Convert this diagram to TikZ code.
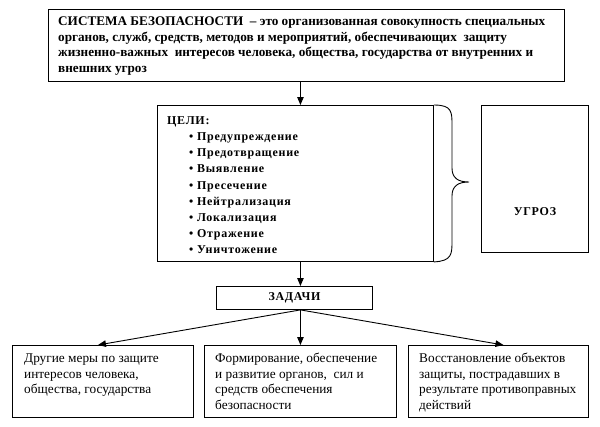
\documentclass[tikz,border=0pt]{standalone}
\usepackage{fontspec}
\setmainfont{Liberation Serif}
\newfontfamily\spaced[LetterSpace=6]{Liberation Serif}
\usetikzlibrary{arrows.meta,calc}
\begin{document}
\begin{tikzpicture}[x=1pt,y=-1pt,
  box/.style={draw, line width=0.9pt, inner sep=0pt, anchor=north west},
  txt/.style={anchor=north west, inner sep=0pt, align=left},
  arr/.style={line width=0.9pt, -{Triangle[length=8pt,width=6.5pt]}}]
\useasboundingbox (0,0) rectangle (600,426);
% boxes
\node[box, minimum width=516pt, minimum height=72pt] (sys) at (48,9) {};
\node[box, minimum width=276pt, minimum height=156pt] (goals) at (157,105) {};
\node[box, minimum width=107pt, minimum height=147pt] (thr) at (481,105) {};
\node[box, minimum width=156pt, minimum height=23pt, font=\spaced\bfseries\fontsize{12}{14}\selectfont] (zad) at (216,286) {ЗАДАЧИ};
\node[box, minimum width=181pt, minimum height=72pt] (left) at (12,345) {};
\node[box, minimum width=192pt, minimum height=72pt] (mid) at (204,345) {};
\node[box, minimum width=180pt, minimum height=72pt] (right) at (408,345) {};
% texts
\node[txt, font=\bfseries\fontsize{13.2}{15.5}\selectfont] (systxt) at (58,14.5) {\strut СИСТЕМА БЕЗОПАСНОСТИ \ – это организованная совокупность специальных\\органов, служб, средств, методов и мероприятий, обеспечивающих \ защиту\\жизненно-важных \ интересов человека, общества, государства от внутренних и\\внешних угроз};
\node[txt, font=\spaced\bfseries\fontsize{12}{16.2}\selectfont] (goalstxt) at (167,112.7) {\strut ЦЕЛИ:\\
\hspace*{22pt}\textbullet\ Предупреждение\\
\hspace*{22pt}\textbullet\ Предотвращение\\
\hspace*{22pt}\textbullet\ Выявление\\
\hspace*{22pt}\textbullet\ Пресечение\\
\hspace*{22pt}\textbullet\ Нейтрализация\\
\hspace*{22pt}\textbullet\ Локализация\\
\hspace*{22pt}\textbullet\ Отражение\\
\hspace*{22pt}\textbullet\ Уничтожение};
\node[inner sep=0pt, font=\spaced\bfseries\fontsize{12}{14}\selectfont] (thrtxt) at (535,212) {УГРОЗ};
\node[txt, font=\fontsize{13.3}{15.5}\selectfont] (lefttxt) at (24,351.6) {\strut Другие меры по защите\\интересов человека,\\общества, государства};
\node[txt, font=\fontsize{13.3}{15.5}\selectfont] (midtxt) at (215,351.6) {\strut Формирование, обеспечение\\и развитие органов, \ сил и\\средств обеспечения\\безопасности};
\node[txt, font=\fontsize{13.3}{15.5}\selectfont] (righttxt) at (419,351.6) {\strut Восстановление объектов\\защиты, пострадавших в\\результате противоправных\\действий};
% brace
\draw[line width=0.9pt] (goals.north east) .. controls (452,105) and (452,112) .. (452,125)
  -- (452,168) .. controls (452,178) and (458,182) .. (469,182)
  .. controls (458,182) and (452,186) .. (452,196)
  -- (452,241) .. controls (452,254) and (452,261) .. (goals.south east);
% arrows
\draw[arr] (sys.south -| mid.north) -- (goals.north -| mid.north);
\draw[arr] (goals.south -| mid.north) -- (zad.north -| mid.north);
\draw[arr] (zad.south -| mid.north) -- ($(left.north)+(-5,0)$);
\draw[arr] (zad.south -| mid.north) -- (mid.north);
\draw[arr] (zad.south -| mid.north) -- ($(right.north)+(5,0)$);
\end{tikzpicture}
\end{document}
